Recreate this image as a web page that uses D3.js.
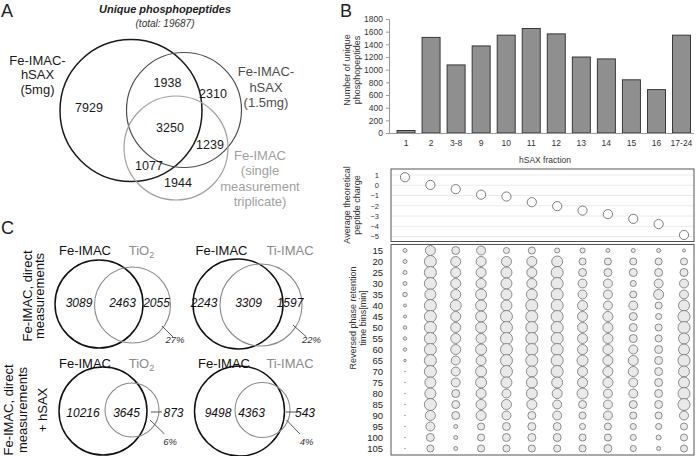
<!DOCTYPE html>
<html><head><meta charset="utf-8">
<script src="https://cdn.jsdelivr.net/npm/d3@7/dist/d3.min.js"></script>
<style>
body{margin:0;background:#fff;}
svg{display:block;font-family:"Liberation Sans",Arial,sans-serif;}
</style></head><body>
<svg id="fig" width="696" height="456"></svg>
<script>
// ---------- DATA ----------
// Panel A: three-set Venn of unique phosphopeptides
const vennATitle = "Unique phosphopeptides";
const vennATotal = "(total: 19687)";
const vennARegions = ["5mg only","5mg∩1.5mg","1.5mg only","all three","1.5mg∩single","5mg∩single","single only"];
const vennACounts = [7929, 1938, 2310, 3250, 1239, 1077, 1944];

// Panel B: bars
const fractions = ["1","2","3-8","9","10","11","12","13","14","15","16","17-24"];
const uniquePeptides = [40, 1510, 1075, 1375, 1545, 1650, 1565, 1200, 1170, 840, 685, 1545];
const barTicks = [0,200,400,600,800,1000,1200,1400,1600,1800];

// Panel B: average theoretical peptide charge
const avgCharge = [0.78, 0.03, -0.38, -0.92, -1.1, -1.65, -2.04, -2.47, -2.82, -3.28, -3.79, -4.85];
const chargeTicks = [1,0,-1,-2,-3,-4,-5];

// Panel B: peptides per reversed phase retention time bin (rows) and hSAX fraction (cols)
const rtBins = [15,20,25,30,35,40,45,50,55,60,65,70,75,80,85,90,95,100,105];
const rtCounts = [
  [24,150,95,120, 55, 75, 38, 38, 24, 24, 24, 14],
  [24,215,150,150,150,150,180, 75, 75, 75, 75, 75],
  [24,215,150,150,180,150,215, 95, 95, 95, 95, 95],
  [24,215,150,150,180,150,215,120,120, 55,120,120],
  [30,180,150,180,180,180,215,120,120, 75,150,120],
  [14,215,180,180,180,215,215,150,120,120, 75,180],
  [14,215,150,180,215,215,215,150,150, 95, 55,215],
  [18,215,150,180,215,215,215,150,150, 95, 75,215],
  [18,215,150,150,215,215,215,150,150, 95, 75,180],
  [18,215,150,180,215,215,215,150,150,120, 95,180],
  [ 9,215,120,150,215,215,215,180,150,150, 95,215],
  [ 3,215,120,180,215,180,215,150,150,150, 95,180],
  [ 3,180,120,180,180,180,180,150,150,120, 95,180],
  [ 3,180, 95,150,120,180,150,180,120,120, 95,215],
  [ 3,215, 95,150,150,150,120, 95,120, 95, 95,215],
  [ 3,150, 95,150,120, 95,120, 75,120, 75, 75,120],
  [ 3,120, 24, 75, 95, 95, 95, 55, 75, 55, 55, 75],
  [ 3, 95, 24, 75, 95, 95, 95, 75, 75, 55, 38, 75],
  [ 3, 75, 24, 75, 75, 75, 75, 75, 95, 55, 24, 75]
];

// Panel C: two-set Venns
const vennCRowLabels = [["Fe-IMAC, direct","measurements"],["Fe-IMAC, direct","measurements","+ hSAX"]];
const vennCSetA = ["Fe-IMAC","Fe-IMAC","Fe-IMAC","Fe-IMAC"];
const vennCSetB = ["TiO2","Ti-IMAC","TiO2","Ti-IMAC"];
const vennCOnlyA = [3089, 2243, 10216, 9498];
const vennCBoth  = [2463, 3309, 3645, 4363];
const vennCOnlyB = [2055, 1597, 873, 543];
const vennCPct   = ["27%","22%","6%","4%"];

// ---------- DRAW ----------
const svg = d3.select("#fig");
const FONT = '"Liberation Sans",Arial,sans-serif';

function panelLetter(t,x,y){
  svg.append("text").attr("x",x).attr("y",y).attr("font-size",18).attr("fill","#222").text(t);
}
panelLetter("A",1,17); panelLetter("B",340,17); panelLetter("C",1,234);

// ===== Panel A =====
const gA = svg.append("g");
gA.append("text").attr("x",165).attr("y",13).attr("text-anchor","middle")
  .attr("font-size",11).attr("font-weight","bold").attr("font-style","italic").attr("fill","#222").text(vennATitle);
gA.append("text").attr("x",165).attr("y",27).attr("text-anchor","middle")
  .attr("font-size",10).attr("font-style","italic").attr("fill","#333").text(vennATotal);

const circA = [
  {cx:131, cy:110.5, r:71, c:"#1a1a1a", w:1.5},
  {cx:184, cy:110, r:57.5, c:"#4d4d4d", w:1.2},
  {cx:176, cy:148, r:52, c:"#a0a0a0", w:1.2}
];
gA.selectAll("circle.a").data(circA).enter().append("circle")
  .attr("cx",d=>d.cx).attr("cy",d=>d.cy).attr("r",d=>d.r)
  .attr("fill","none").attr("stroke",d=>d.c).attr("stroke-width",d=>d.w);

const posA = [[89,107],[167.5,82],[213,93.5],[170,127],[210,144],[149,165],[178,182]];
gA.selectAll("text.n").data(vennACounts).enter().append("text")
  .attr("x",(d,i)=>posA[i][0]).attr("y",(d,i)=>posA[i][1]+4.5)
  .attr("text-anchor","middle").attr("font-size",12.5).attr("fill","#1a1a1a").text(d=>d);

function multiline(g,lines,x,y0,dy,color,size){
  lines.forEach((l,i)=>g.append("text").attr("x",x).attr("y",y0+i*dy).attr("text-anchor","middle")
    .attr("font-size",size).attr("fill",color).text(l));
}
multiline(gA,["Fe-IMAC-","hSAX","(5mg)"],37.5,64.5,14.5,"#1a1a1a",13);
multiline(gA,["Fe-IMAC-","hSAX","(1.5mg)"],266,76,15.5,"#4d4d4d",13);
multiline(gA,["Fe-IMAC","(single","measurement","triplicate)"],260,159.5,15.5,"#a0a0a0",13);

// ===== Panel B: bars =====
const gB = svg.append("g");
const xB = d3.scaleBand().domain(fractions).range([393.5,694]).paddingInner(0.28).paddingOuter(0.14);
const yB = d3.scaleLinear().domain([0,1800]).range([133,19]);
gB.selectAll("rect.bar").data(uniquePeptides).enter().append("rect")
  .attr("x",(d,i)=>xB(fractions[i])).attr("width",xB.bandwidth())
  .attr("y",d=>yB(d)).attr("height",d=>yB(0)-yB(d))
  .attr("fill","#8f8f8f").attr("stroke","#2b2b2b").attr("stroke-width",0.9);
const axY = gB.append("g").attr("transform","translate(389,0)")
  .call(d3.axisLeft(yB).tickValues(barTicks).tickSize(3).tickPadding(3).tickFormat(d3.format("d")));
axY.select(".domain").attr("stroke","#9a9a9a");
axY.selectAll(".tick line").attr("stroke","#9a9a9a");
axY.selectAll("text").attr("font-size",8.5).attr("fill","#333").attr("font-family",FONT);
const axX = gB.append("g").attr("transform","translate(0,133)")
  .call(d3.axisBottom(xB).tickSize(0).tickPadding(7));
axX.select(".domain").attr("stroke","#9a9a9a").attr("d","M389,0.5H694");
axX.selectAll("text").attr("font-size",8.5).attr("fill","#333").attr("font-family",FONT);
gB.append("text").attr("transform","translate(350,70) rotate(-90)").attr("text-anchor","middle")
  .attr("font-size",9).attr("fill","#333").text("Number of unique");
gB.append("text").attr("transform","translate(359.5,70) rotate(-90)").attr("text-anchor","middle")
  .attr("font-size",9).attr("fill","#333").text("phosphopeptides");
gB.append("text").attr("x",545).attr("y",163).attr("text-anchor","middle")
  .attr("font-size",8.5).attr("fill","#333").text("hSAX fraction");

// ===== Panel B: charge =====
const xP = d3.scalePoint().domain(fractions).range([405,684]);
const gQ = svg.append("g");
const yQ = d3.scaleLinear().domain([1,-5]).range([175,236.5]);
const qTop=169, qBot=241.5, pL=391, pR=694;
gQ.selectAll("line.grid").data(chargeTicks).enter().append("line")
  .attr("x1",pL).attr("x2",pR).attr("y1",d=>yQ(d)).attr("y2",d=>yQ(d))
  .attr("stroke","#e4e4e4").attr("stroke-width",0.8);
gQ.append("rect").attr("x",pL).attr("y",qTop).attr("width",pR-pL).attr("height",qBot-qTop)
  .attr("fill","none").attr("stroke","#555").attr("stroke-width",1);
const axQ = gQ.append("g").attr("transform",`translate(${pL},0)`)
  .call(d3.axisLeft(yQ).tickValues(chargeTicks).tickSize(0).tickPadding(12).tickFormat(d3.format("d")));
axQ.select(".domain").remove();
axQ.selectAll("text").attr("font-size",7.5).attr("fill","#333").attr("font-family",FONT);
gQ.selectAll("circle.q").data(avgCharge).enter().append("circle")
  .attr("cx",(d,i)=>xP(fractions[i])).attr("cy",d=>yQ(d)).attr("r",4.6)
  .attr("fill","#fff").attr("stroke","#6e6e6e").attr("stroke-width",0.9);
gQ.append("text").attr("transform","translate(350,205) rotate(-90)").attr("text-anchor","middle")
  .attr("font-size",9).attr("fill","#333").text("Average theoretical");
gQ.append("text").attr("transform","translate(359.5,205) rotate(-90)").attr("text-anchor","middle")
  .attr("font-size",9).attr("fill","#333").text("peptide charge");

// ===== Panel B: bubble grid =====
const gR = svg.append("g");
const bTop=244.5, bBot=455;
const yR = d3.scalePoint().domain(rtBins).range([250.5,448.5]);
const rR = d3.scaleSqrt().domain([0,215]).range([0,6]);
gR.append("rect").attr("x",pL).attr("y",bTop).attr("width",pR-pL).attr("height",bBot-bTop)
  .attr("fill","none").attr("stroke","#555").attr("stroke-width",1);
const axR = gR.append("g").attr("transform",`translate(${pL},0)`)
  .call(d3.axisLeft(yR).tickSize(0).tickPadding(8));
axR.select(".domain").remove();
axR.selectAll("text").attr("font-size",9.5).attr("fill","#222").attr("font-family",FONT);
const cells = [];
rtCounts.forEach((row,ri)=>row.forEach((v,ci)=>cells.push({bin:rtBins[ri],frac:fractions[ci],v})));
gR.selectAll("circle.b").data(cells).enter().append("circle")
  .attr("cx",d=>xP(d.frac)).attr("cy",d=>yR(d.bin)).attr("r",d=>rR(d.v))
  .attr("fill",d=>d.v<5?"#888":"#e9e9e9")
  .attr("stroke",d=>d.v<5?"none":"#707070").attr("stroke-width",0.8);
gR.append("text").attr("transform","translate(356,318) rotate(-90)").attr("text-anchor","middle")
  .attr("font-size",9).attr("fill","#333").text("Reversed phase retention");
gR.append("text").attr("transform","translate(366,318) rotate(-90)").attr("text-anchor","middle")
  .attr("font-size",9).attr("fill","#333").text("time bins[min]");

// ===== Panel C =====
const gC = svg.append("g");
const vennC = [
  {a:{cx:99,cy:304,r:44}, b:{cx:132.5,cy:305,r:38}, lab:[85,141.5], ny:302, nx:[79,122.5,156.5], pct:[175,343], lead:[162,326,173,337], tick:null, ly:255},
  {a:{cx:238,cy:304,r:45}, b:{cx:261,cy:305,r:41}, lab:[221.5,290], ny:302, nx:[204,248.5,290], pct:[311.5,343], lead:[293,325,306.5,337], tick:null, ly:255},
  {a:{cx:103,cy:411,r:44}, b:{cx:132,cy:410,r:27}, lab:[85,141.5], ny:412, nx:[83,126.5,173.5], pct:[170,445], lead:[150,420,164.5,434], tick:[151,162], ly:368},
  {a:{cx:239.5,cy:411,r:45}, b:{cx:262.5,cy:410,r:27.5}, lab:[224,290], ny:412, nx:[218,251.5,305], pct:[306.5,445], lead:[286.5,420,300,434], tick:[286,297], ly:368}
];
vennC.forEach((v,i)=>{
  const g = gC.append("g");
  g.append("circle").attr("cx",v.a.cx).attr("cy",v.a.cy).attr("r",v.a.r)
    .attr("fill","none").attr("stroke","#111").attr("stroke-width",1.5);
  g.append("circle").attr("cx",v.b.cx).attr("cy",v.b.cy).attr("r",v.b.r)
    .attr("fill","none").attr("stroke","#8a8a8a").attr("stroke-width",1.1);
  g.append("text").attr("x",v.lab[0]).attr("y",v.ly).attr("text-anchor","middle")
    .attr("font-size",13).attr("fill","#111").text(vennCSetA[i]);
  const tb = g.append("text").attr("x",v.lab[1]).attr("y",v.ly).attr("text-anchor","middle")
    .attr("font-size",13).attr("fill","#8a8a8a");
  if (vennCSetB[i]==="TiO2"){
    tb.append("tspan").text("TiO");
    tb.append("tspan").attr("dy",3).attr("font-size",9).text("2");
  } else tb.text(vennCSetB[i]);
  const nums=[vennCOnlyA[i],vennCBoth[i],vennCOnlyB[i]];
  nums.forEach((n,k)=>g.append("text").attr("x",v.nx[k]).attr("y",v.ny+4.5).attr("text-anchor","middle")
    .attr("font-size",12).attr("font-style","italic").attr("fill","#111").text(n));
  if (v.tick) g.append("line").attr("x1",v.tick[0]).attr("x2",v.tick[1]).attr("y1",v.ny).attr("y2",v.ny)
    .attr("stroke","#555").attr("stroke-width",1);
  g.append("line").attr("x1",v.lead[0]).attr("y1",v.lead[1]).attr("x2",v.lead[2]).attr("y2",v.lead[3])
    .attr("stroke","#444").attr("stroke-width",0.9);
  g.append("text").attr("x",v.pct[0]).attr("y",v.pct[1]).attr("text-anchor","middle")
    .attr("font-size",9.5).attr("font-style","italic").attr("fill","#333").text(vennCPct[i]);
});
// row labels
[[27,38.5],[8,22,41.5]].forEach((xs,ri)=>{
  const cy = ri===0?296:410;
  vennCRowLabels[ri].forEach((t,k)=>gC.append("text")
    .attr("transform",`translate(${xs[k]+5},${cy}) rotate(-90)`).attr("text-anchor","middle")
    .attr("font-size",13).attr("fill","#111").text(t));
});
</script></body></html>
